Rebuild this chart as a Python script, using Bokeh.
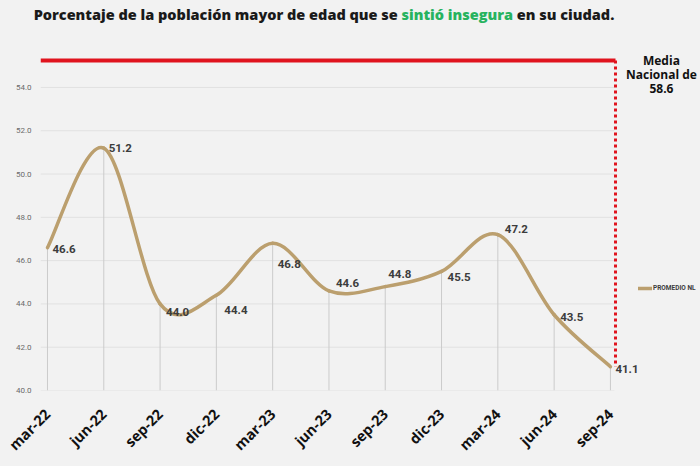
import math
from bokeh.plotting import figure
from bokeh.models import (Range1d, FixedTicker, NumeralTickFormatter, ColumnDataSource,
                          LabelSet, Label, Legend, LegendItem, Div)
from bokeh.layouts import column
from bokeh.core.properties import value
from bokeh.embed import file_html
from bokeh.resources import INLINE

# ---------------- data ----------------
PERIODOS = ["mar-22", "jun-22", "sep-22", "dic-22", "mar-23", "jun-23",
            "sep-23", "dic-23", "mar-24", "jun-24", "sep-24"]
PROMEDIO_NL = [46.6, 51.2, 44.0, 44.4, 46.8, 44.6, 44.8, 45.5, 47.2, 43.5, 41.1]
MEDIA_NACIONAL = 58.6
Y_TICKS = [40, 42, 44, 46, 48, 50, 52, 54]
SERIE = "PROMEDIO NL"
TITULO_A = "Porcentaje de la población mayor de edad que se "
TITULO_B = "sintió insegura"
TITULO_C = " en su ciudad."

# label nudges (screen px) - style only
LABEL_DX = [5, 5, 6, 8, 5, 7, 3, 6, 7, 6, 5]
LABEL_DY = [-1, 0, -8, -15, -21, 8, 13, -6, 6, -2, -2]

BG = "#f2f2f2"
CURVE = "#bb9f6e"
RED = "#e0141e"
DARK = "#3c3c3c"

n = len(PROMEDIO_NL)
xs = list(range(n))

# smooth (Catmull-Rom style) bezier segments through the data points
def at(i):
    i = max(0, min(n - 1, i))
    return xs[i], PROMEDIO_NL[i]

seg = dict(x0=[], y0=[], x1=[], y1=[], cx0=[], cy0=[], cx1=[], cy1=[])
for i in range(n - 1):
    xa, ya = at(i)
    xb, yb = at(i + 1)
    xp, yp = at(i - 1)
    xn, yn = at(i + 2)
    seg["x0"].append(xa); seg["y0"].append(ya)
    seg["x1"].append(xb); seg["y1"].append(yb)
    seg["cx0"].append(xa + (xb - xp) / 6.0); seg["cy0"].append(ya + (yb - yp) / 6.0)
    seg["cx1"].append(xb - (xn - xa) / 6.0); seg["cy1"].append(yb - (yn - ya) / 6.0)

# ranges (frame spans the right-hand annotation area too)
x_start, x_end = -0.124, (n - 1) + 1.60
y_start, y_end = Y_TICKS[0], 55.80
ref_y = y_end - 0.56          # display level of the national-mean marker
ref_x = (n - 1) + 0.09
grid_x1 = (n - 1) + 0.07

p = figure(width=700, height=418, output_backend="svg", toolbar_location=None,
           x_range=Range1d(x_start, x_end), y_range=Range1d(y_start, y_end),
           min_border_left=40, min_border_right=0, min_border_top=0, min_border_bottom=76,
           background_fill_color=BG, border_fill_color=BG, outline_line_color=None)

# grid (drawn only across the chart area)
p.xgrid.grid_line_color = None
p.ygrid.grid_line_color = None
p.segment(x0=[x_start] * len(Y_TICKS), y0=Y_TICKS, x1=[grid_x1] * len(Y_TICKS), y1=Y_TICKS,
          line_color="#e1e1e1", line_width=1)

# y axis
p.yaxis.ticker = FixedTicker(ticks=Y_TICKS)
p.yaxis.formatter = NumeralTickFormatter(format="0.0")
p.yaxis.axis_line_color = None
p.yaxis.major_tick_line_color = None
p.yaxis.minor_tick_line_color = None
p.yaxis.major_tick_out = 0
p.yaxis.major_label_text_font = "Roboto"
p.yaxis.major_label_text_font_size = "8px"
p.yaxis.major_label_text_color = "#6a6a6a"
p.yaxis.major_label_standoff = 9

# x axis
p.xaxis.ticker = FixedTicker(ticks=xs)
p.xaxis.major_label_overrides = {i: lab for i, lab in zip(xs, PERIODOS)}
p.xaxis.major_label_orientation = math.pi / 4
p.xaxis.axis_line_color = None
p.xaxis.major_tick_line_color = None
p.xaxis.minor_tick_line_color = None
p.xaxis.major_tick_out = 0
p.xaxis.major_label_text_font = "Open Sans"
p.xaxis.major_label_text_font_style = "bold"
p.xaxis.major_label_text_font_size = "14.5px"
p.xaxis.major_label_text_color = "#111111"
p.xaxis.major_label_standoff = 21

# drop lines
p.segment(x0=xs, y0=[y_start] * n, x1=xs, y1=PROMEDIO_NL,
          line_color="#cbcbcb", line_width=1)

# national mean marker
p.segment(x0=[x_start], y0=[ref_y], x1=[ref_x], y1=[ref_y], line_color=RED, line_width=4)
p.segment(x0=[ref_x], y0=[ref_y], x1=[ref_x], y1=[PROMEDIO_NL[-1]],
          line_color=RED, line_width=3, line_dash="3 3")

# smooth curve
curve = p.bezier(source=ColumnDataSource(seg), x0="x0", y0="y0", x1="x1", y1="y1",
                 cx0="cx0", cy0="cy0", cx1="cx1", cy1="cy1",
                 line_color=CURVE, line_width=3.5, line_cap="round")

# data labels
lab_src = ColumnDataSource(dict(x=xs, y=PROMEDIO_NL,
                                t=[f"{v:.1f}" for v in PROMEDIO_NL],
                                dx=LABEL_DX, dy=LABEL_DY))
p.add_layout(LabelSet(source=lab_src, x="x", y="y", text="t", x_offset="dx", y_offset="dy",
                      text_font=value("Roboto"), text_font_style="bold",
                      text_font_size="11.5px", text_color=DARK,
                      text_align="left", text_baseline="middle"))

# national mean text
p.add_layout(Label(x=(n - 1) + 0.906, y=y_end - 0.15,
                   text=f"Media\nNacional de\n{MEDIA_NACIONAL}",
                   text_font="Open Sans", text_font_style="bold", text_font_size="12px",
                   text_line_height=0.82,
                   text_color="#111111", text_align="center", text_baseline="top"))

# legend
leg = Legend(items=[LegendItem(label=SERIE, renderers=[curve])], location=(598, 98),
             orientation="vertical", padding=0, margin=0, spacing=0,
             glyph_width=14, glyph_height=8, label_standoff=1,
             label_text_font="Roboto", label_text_font_style="bold",
             label_text_font_size="6.5px", label_text_color=DARK,
             label_height=8, background_fill_alpha=0, border_line_color=None)
p.add_layout(leg, "center")

title = Div(text=(f'<div style="width:648px;text-align:center;font-family:\'Open Sans\';'
                  f'font-weight:800;font-size:14.5px;color:#1a1a1a;line-height:18px;'
                  f'padding-top:6px;">{TITULO_A}<span style="color:#27b35f;">{TITULO_B}</span>'
                  f'{TITULO_C}</div>'),
            width=700, height=48, margin=0)

layout = column(title, p, spacing=0)
layout.styles = {"background-color": BG}

html = file_html(layout, INLINE)
html = html.replace("<body>", f'<body style="background-color:{BG};">', 1)
open("out.html", "w").write(html)
